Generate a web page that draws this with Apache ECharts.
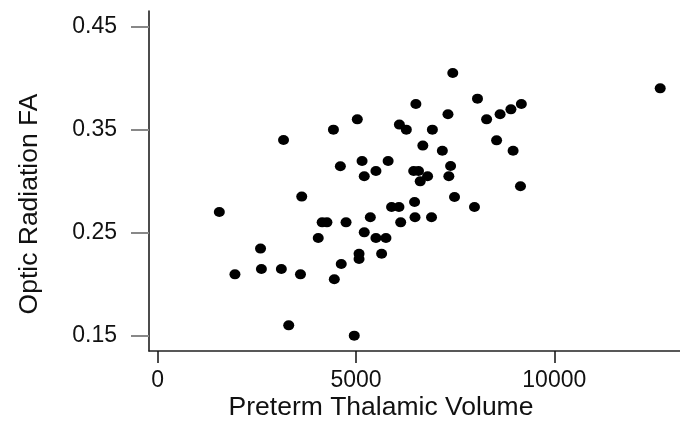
<!DOCTYPE html>
<html>
<head>
<meta charset="utf-8">
<script src="https://cdn.jsdelivr.net/npm/echarts@6/dist/echarts.min.js"></script>
<style>html,body{margin:0;padding:0;background:#fff}#c{width:680px;height:421px}</style>
</head>
<body>
<div id="c"></div>
<script>
var thalamicVolume = [1554,1948,2593,2615,3118,3173,3304,3632,3600,4048,4147,4267,4431,4453,4606,4628,4749,4956,5033,5077,5077,5153,5208,5208,5361,5503,5503,5646,5755,5810,5897,6083,6094,6127,6269,6455,6477,6488,6510,6576,6619,6685,6805,6904,6926,7177,7319,7341,7385,7440,7484,7987,8063,8293,8545,8633,8906,8961,9147,9169,12670];
var opticFA = [0.270,0.2095,0.2345,0.2147,0.2147,0.340,0.160,0.285,0.2095,0.2448,0.260,0.260,0.350,0.2047,0.3144,0.2196,0.260,0.150,0.360,0.2296,0.2244,0.3196,0.3047,0.2503,0.2649,0.3099,0.2448,0.2296,0.2448,0.3196,0.2749,0.2749,0.3549,0.260,0.350,0.3099,0.2798,0.2649,0.3749,0.3099,0.2998,0.3345,0.3047,0.2649,0.350,0.3296,0.3649,0.3047,0.3147,0.405,0.2846,0.2749,0.3801,0.360,0.3396,0.3649,0.3697,0.3296,0.295,0.3749,0.3901];
var xTicks = [0, 5000, 10000];
var yTicks = [0.15, 0.25, 0.35, 0.45];
var xTitle = 'Preterm Thalamic Volume';
var yTitle = 'Optic Radiation FA';

var points = thalamicVolume.map(function (v, i) { return [v, opticFA[i]]; });
var chart = echarts.init(document.getElementById('c'), null, {renderer: 'canvas'});
var font = '"Liberation Sans", Arial, sans-serif';
chart.setOption({
  animation: false,
  backgroundColor: '#fff',
  grid: {left: 149, right: 0, top: 11, bottom: 70, containLabel: false},
  xAxis: {
    type: 'value', min: -219, max: 13169,
    splitLine: {show: false},
    axisLine: {show: true, onZero: false, lineStyle: {color: '#222', width: 1.5}},
    axisTick: {show: true, customValues: xTicks, length: 12, lineStyle: {color: '#111', width: 1.5}},
    axisLabel: {customValues: xTicks, margin: 18, fontSize: 23, color: '#111', fontFamily: font,
      formatter: function (v) { return String(v); }}
  },
  yAxis: {
    type: 'value', min: 0.1351, max: 0.4652,
    splitLine: {show: false},
    axisLine: {show: true, onZero: false, lineStyle: {color: '#111', width: 1.5}},
    axisTick: {show: true, customValues: yTicks, length: 18, lineStyle: {color: '#888', width: 2}},
    axisLabel: {customValues: yTicks, margin: 32, fontSize: 23, color: '#111', fontFamily: font,
      formatter: function (v) { return v.toFixed(2); }}
  },
  graphic: [
    {type: 'text', x: 381, y: 408, style: {text: xTitle, font: '26.5px ' + font, fill: '#111', textAlign: 'center', textVerticalAlign: 'middle'}},
    {type: 'text', x: 30, y: 204, rotation: Math.PI / 2, style: {text: yTitle, font: '26.5px ' + font, fill: '#111', textAlign: 'center', textVerticalAlign: 'middle'}}
  ],
  series: [{
    type: 'scatter',
    data: points,
    symbol: 'circle',
    symbolSize: [11, 10],
    itemStyle: {color: '#000', opacity: 1},
    emphasis: {disabled: true}
  }]
});
</script>
</body>
</html>
